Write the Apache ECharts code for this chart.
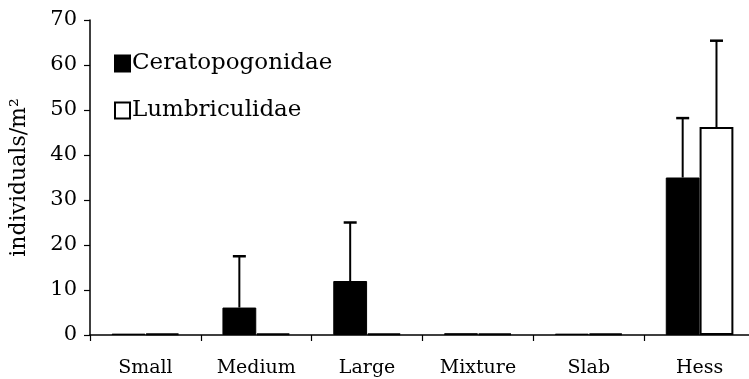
<!DOCTYPE html>
<html>
<head>
<meta charset="utf-8">
<script src="https://cdn.jsdelivr.net/npm/echarts@6/dist/echarts.min.js"></script>
<style>html,body{margin:0;padding:0;background:#fff;overflow:hidden}#c{width:755px;height:379px}</style>
</head>
<body>
<div id="c"></div>
<script>
var categories = ['Small', 'Medium', 'Large', 'Mixture', 'Slab', 'Hess'];
var ceratoMean = [0.3, 6.1, 12.0, 0.4, 0.3, 35.0];
var ceratoErr  = [0, 17.5, 25.0, 0, 0, 48.2];
var lumbriMean = [0.3, 0.3, 0.3, 0.3, 0.3, 46.2];
var lumbriErr  = [0, 0, 0, 0, 0, 65.4];
var yTicks = [0, 10, 20, 30, 40, 50, 60, 70];

var FONT = 'DejaVu Serif';
var BAR_FRAC = 0.305;

function errSeries(name, tops, means, side) {
  return {
    type: 'custom',
    name: name + ' err',
    z: 5,
    silent: true,
    data: tops.map(function (t, i) { return [i, means[i], t]; }),
    renderItem: function (params, api) {
      var top = api.value(2);
      if (!top) return null;
      var band = api.size([1, 0])[0];
      var off = side * band * BAR_FRAC / 2;
      var p0 = api.coord([api.value(0), api.value(1)]);
      var p1 = api.coord([api.value(0), top]);
      var x = p0[0] + off;
      return {
        type: 'group',
        children: [
          { type: 'line', shape: { x1: x, y1: p0[1], x2: x, y2: p1[1] }, style: { stroke: '#000', lineWidth: 2 } },
          { type: 'line', shape: { x1: x - 6.5, y1: p1[1], x2: x + 6.5, y2: p1[1] }, style: { stroke: '#000', lineWidth: 2.5 } }
        ]
      };
    }
  };
}

var chart = echarts.init(document.getElementById('c'));
chart.setOption({
  animation: false,
  backgroundColor: '#fff',
  grid: { left: 84, right: 0, top: 20, bottom: 44, containLabel: false },
  legend: {
    orient: 'vertical',
    left: 109,
    top: 47,
    itemGap: 24,
    itemWidth: 15,
    itemHeight: 16,
    icon: 'rect',
    data: ['Ceratopogonidae', 'Lumbriculidae'],
    textStyle: { fontFamily: FONT, fontSize: 23, color: '#000', padding: [0, 0, 0, -3] }
  },
  xAxis: {
    type: 'category',
    data: categories,
    axisLine: { lineStyle: { color: '#000', width: 1.5 } },
    axisTick: { show: true, alignWithLabel: false, length: 6, lineStyle: { color: '#000', width: 1.2 } },
    axisLabel: { fontFamily: FONT, fontSize: 19, color: '#000', margin: 24 }
  },
  yAxis: {
    type: 'value',
    min: 0,
    max: 70,
    interval: 10,
    name: 'individuals/m²',
    nameLocation: 'middle',
    nameGap: 60,
    nameTextStyle: { fontFamily: FONT, fontSize: 22, color: '#000' },
    splitLine: { show: false },
    axisLine: { show: true, lineStyle: { color: '#000', width: 1.5 } },
    axisTick: { show: true, length: 6, lineStyle: { color: '#000', width: 1.2 } },
    axisLabel: {
      fontFamily: FONT, fontSize: 21, color: '#000', margin: 13,
      formatter: function (v) { return yTicks.indexOf(v) >= 0 ? String(v) : ''; }
    }
  },
  series: [
    {
      type: 'bar', name: 'Ceratopogonidae', data: ceratoMean,
      barWidth: (BAR_FRAC * 100) + '%', barGap: '0%',
      itemStyle: { color: '#000', borderColor: '#000', borderWidth: 1 }
    },
    {
      type: 'bar', name: 'Lumbriculidae', data: lumbriMean,
      barWidth: (BAR_FRAC * 100) + '%', barGap: '0%',
      itemStyle: { color: '#fff', borderColor: '#000', borderWidth: 2 }
    },
    errSeries('Ceratopogonidae', ceratoErr, ceratoMean, -1),
    errSeries('Lumbriculidae', lumbriErr, lumbriMean, 1)
  ]
});
</script>
</body>
</html>
